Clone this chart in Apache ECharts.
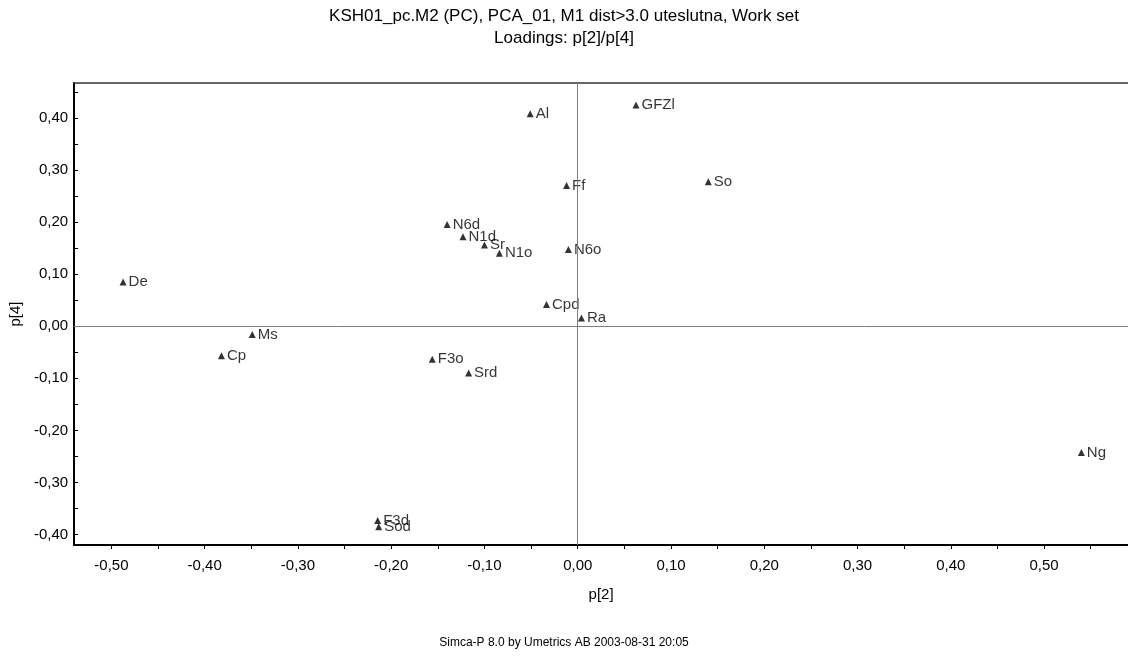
<!DOCTYPE html>
<html>
<head>
<meta charset="utf-8">
<script src="https://cdn.jsdelivr.net/npm/echarts@6/dist/echarts.min.js"></script>
<style>
  html, body { margin: 0; padding: 0; background: #fff; }
  #main { width: 1128px; height: 657px; }
</style>
</head>
<body>
<div id="main"></div>
<script>
// loadings
const names = ['Al', 'GFZl', 'Ff', 'So', 'N6d', 'N1d', 'Sr', 'N1o', 'N6o', 'Cpd', 'Ra',
  'De', 'Ms', 'Cp', 'F3o', 'Srd', 'F3d', 'Sod', 'Ng'];
const p2 = [-0.051, 0.0625, -0.012, 0.140, -0.140, -0.123, -0.100, -0.084, -0.010, -0.0335, 0.004,
  -0.4875, -0.349, -0.382, -0.156, -0.117, -0.2145, -0.2134, 0.540];
const p4 = [0.408, 0.425, 0.270, 0.2775, 0.1955, 0.172, 0.156, 0.140, 0.1474, 0.0417, 0.016,
  0.085, -0.016, -0.0565, -0.0635, -0.090, -0.373, -0.385, -0.2423];

// tick labels and minor ticks
const xLabels = [-0.5, -0.4, -0.3, -0.2, -0.1, 0, 0.1, 0.2, 0.3, 0.4, 0.5];
const xTicks = [-0.5, -0.45, -0.4, -0.35, -0.3, -0.25, -0.2, -0.15, -0.1, -0.05, 0,
  0.05, 0.1, 0.15, 0.2, 0.25, 0.3, 0.35, 0.4, 0.45, 0.5, 0.55];
const yLabels = [-0.4, -0.3, -0.2, -0.1, 0, 0.1, 0.2, 0.3, 0.4];
const yTicks = [-0.4, -0.35, -0.3, -0.25, -0.2, -0.15, -0.1, -0.05, 0,
  0.05, 0.1, 0.15, 0.2, 0.25, 0.3, 0.35, 0.4, 0.45];

const font = "'Liberation Sans', Arial, sans-serif";
const fmt = v => v.toFixed(2).replace('.', ',');

let chart = echarts.init(document.getElementById('main'));
let option = {
  animation: false,
  textStyle: { fontFamily: font, color: '#000' },
  title: [
    {
      text: 'KSH01_pc.M2 (PC), PCA_01, M1 dist>3.0 uteslutna, Work set\nLoadings: p[2]/p[4]',
      left: 'center',
      top: 0,
      textStyle: { fontSize: 17, fontWeight: 'normal', color: '#000', fontFamily: font, lineHeight: 22 }
    },
    {
      text: 'Simca-P 8.0 by Umetrics AB 2003-08-31 20:05',
      left: 'center',
      top: 632,
      textStyle: { fontSize: 12, fontWeight: 'normal', color: '#000', fontFamily: font }
    }
  ],
  grid: { left: 73, right: 0, top: 83, bottom: 112 },
  xAxis: [
    {
      type: 'value',
      min: -0.54,
      max: 0.59,
      name: 'p[2]',
      nameLocation: 'middle',
      nameGap: 42,
      nameTextStyle: { fontSize: 15, color: '#000', fontFamily: font },
      axisLine: { onZero: false, lineStyle: { color: '#000', width: 2 } },
      axisTick: { customValues: xTicks, length: 4, lineStyle: { color: '#000' } },
      axisLabel: { customValues: xLabels, formatter: fmt, fontSize: 15, color: '#000', margin: 13, fontFamily: font },
      splitLine: { show: false }
    },
    {
      type: 'value',
      position: 'top',
      min: -0.54,
      max: 0.59,
      axisLine: { onZero: false, lineStyle: { color: '#333', width: 1.5 } },
      axisTick: { show: false },
      axisLabel: { show: false },
      splitLine: { show: false }
    }
  ],
  yAxis: {
    type: 'value',
    min: -0.42,
    max: 0.467,
    name: 'p[4]',
    nameLocation: 'middle',
    nameGap: 41,
    nameTextStyle: { fontSize: 15, color: '#000', fontFamily: font },
    axisLine: { onZero: false, lineStyle: { color: '#000', width: 2 } },
    axisTick: { customValues: yTicks, inside: true, length: 4, lineStyle: { color: '#000' } },
    axisLabel: { customValues: yLabels, formatter: fmt, fontSize: 15, color: '#000', margin: 6, fontFamily: font },
    splitLine: { show: false }
  },
  series: [
    {
      type: 'scatter',
      symbol: 'triangle',
      symbolSize: 7,
      itemStyle: { color: '#000' },
      label: {
        show: true,
        position: 'right',
        distance: 2,
        formatter: p => p.name,
        fontSize: 15,
        color: '#000',
        fontFamily: font
      },
      data: names.map((n, i) => ({ name: n, value: [p2[i], p4[i]] })),
      markLine: {
        silent: true,
        symbol: 'none',
        label: { show: false },
        lineStyle: { color: '#7f7f7f', width: 1, type: 'solid' },
        data: [{ xAxis: 0 }, { yAxis: 0 }]
      }
    }
  ]
};
chart.setOption(option);
window.addEventListener('resize', chart.resize);
</script>
</body>
</html>
